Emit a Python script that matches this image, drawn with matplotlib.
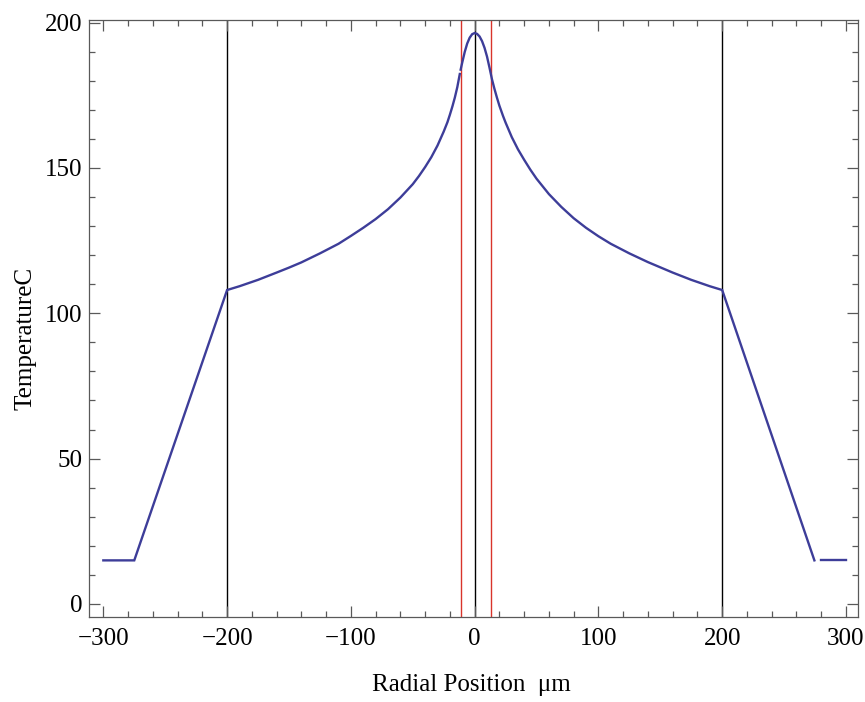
import matplotlib
matplotlib.use('Agg')
import matplotlib.pyplot as plt
from matplotlib.ticker import MultipleLocator

# Valeurs lues sur la figure
# zone extérieure gauche : plateau puis rampe
x_ext_gauche = [-300, -275, -200]
t_ext_gauche = [15, 15, 108]

# zone logarithmique gauche (de -200 à -12)
x_mil_gauche = [-200, -190, -175, -160, -150, -140, -125, -110, -100, -90,
                -80, -70, -60, -50, -45, -40, -35, -30, -25, -22,
                -20, -18, -16, -14, -12]
t_mil_gauche = [108.0, 109.3, 111.5, 114.0, 115.7, 117.5, 120.6, 123.9, 126.6, 129.4,
                132.4, 135.8, 139.8, 144.4, 147.2, 150.3, 153.7, 157.7, 162.5, 165.7,
                168.3, 171.1, 174.2, 177.8, 182.3]

# zone centrale
x_centre = [-11.3, -10, -8, -6, -4, -2, 0, 2, 4, 6, 8, 10, 12]
t_centre = [183.8, 186.3, 189.9, 192.8, 194.8, 196.0, 196.4, 196.1, 195.2, 193.6,
            191.3, 188.3, 184.5]

# zone logarithmique droite (de 12 à 200)
x_mil_droite = [12, 14, 16, 18, 20, 23, 25, 30, 35, 40,
                45, 50, 60, 70, 80, 90, 100, 110, 125, 140,
                150, 160, 175, 190, 200]
t_mil_droite = [184.5, 180.5, 177.2, 174.2, 171.4, 167.8, 165.6, 160.6, 156.4, 152.8,
                149.4, 146.3, 141.0, 136.6, 132.7, 129.4, 126.5, 123.9, 120.6, 117.6,
                115.8, 114.0, 111.5, 109.3, 108.0]

# rampe droite et plateau
x_ext_droite = [200, 274.5]
t_ext_droite = [108, 15]
x_plateau_droite = [280, 300]
t_plateau_droite = [15, 15]

lignes_noires = [-200, 0, 200]
lignes_rouges = [-11, 13]

bleu = '#3d3d99'

plt.rcParams['font.family'] = ['Liberation Serif', 'DejaVu Serif']

fig = plt.figure(figsize=(8.65, 7.02), dpi=100)
ax = fig.add_axes([0.103, 0.121, 0.889, 0.851])

for x in lignes_noires:
    ax.axvline(x, color='black', lw=1.0, zorder=1)
for x in lignes_rouges:
    ax.axvline(x, color='#d9342b', lw=1.0, zorder=1)

segments = [
    (x_ext_gauche + x_mil_gauche[1:], t_ext_gauche + t_mil_gauche[1:]),
    (x_centre + x_mil_droite[1:] + x_ext_droite[1:],
     t_centre + t_mil_droite[1:] + t_ext_droite[1:]),
    (x_plateau_droite, t_plateau_droite),
]
for xs, ts in segments:
    ax.plot(xs, ts, color=bleu, lw=1.7, solid_joinstyle='miter', zorder=3)

ax.set_xlim(-311.5, 309.8)
ax.set_ylim(-4.5, 201)

ax.xaxis.set_major_locator(MultipleLocator(100))
ax.xaxis.set_minor_locator(MultipleLocator(20))
ax.yaxis.set_major_locator(MultipleLocator(50))
ax.yaxis.set_minor_locator(MultipleLocator(10))

ax.tick_params(which='both', direction='in', top=True, right=True,
               color='0.35', width=0.9)
ax.tick_params(which='major', length=8, labelsize=18)
ax.tick_params(axis='x', which='major', pad=8)
ax.tick_params(axis='y', which='major', pad=5)
ax.tick_params(which='minor', length=4.5)
ax.tick_params(axis='y', labelright=False)
ax.tick_params(axis='x', labeltop=False)

for sp in ax.spines.values():
    sp.set_color('0.35')
    sp.set_linewidth(0.9)

ax.set_xlabel('Radial Position  \u03bcm', fontsize=18)
ax.set_ylabel('TemperatureC', fontsize=18)
ax.xaxis.set_label_coords(0.497, -0.114, transform=ax.transAxes)
ax.yaxis.set_label_coords(-0.083, 0.467, transform=ax.transAxes)
ax.xaxis.label.set_va('center')
ax.yaxis.label.set_va('center')

fig.savefig('out.png', dpi=100)
